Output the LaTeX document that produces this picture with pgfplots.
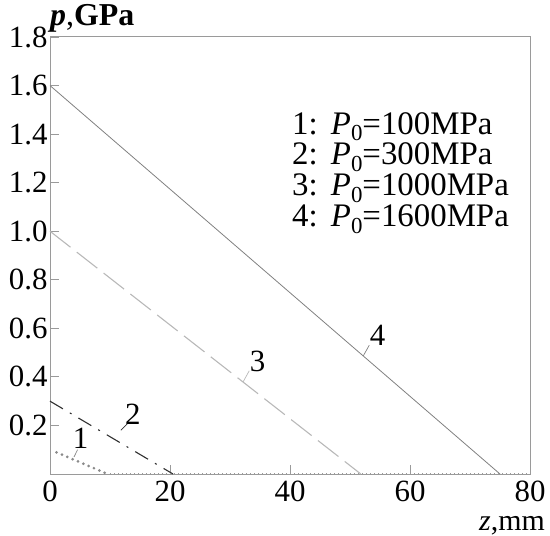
\documentclass[border=0pt]{standalone}
\usepackage{pgfplots}
\pgfplotsset{compat=1.18}
\usepackage{fontspec}
\setmainfont{Liberation Serif}
\definecolor{axgray}{HTML}{9A9A9A}
\definecolor{l4}{HTML}{808080}
\definecolor{l3}{HTML}{B8B8B8}
\definecolor{l2}{HTML}{303030}
\definecolor{l1}{HTML}{8A8A8A}
\newcommand{\Pz}{\textit{P}\raisebox{-0.45ex}{\fontsize{23}{23}\selectfont 0}}
\begin{document}
\begin{tikzpicture}[font=\fontsize{31}{34}\selectfont]
\begin{axis}[
  name=ax,
  scale only axis,
  width=480bp, height=437bp,
  xmin=0, xmax=80, ymin=0, ymax=1.8,
  xtick={0,20,40,60,80},
  ytick={0.2,0.4,0.6,0.8,1.0,1.2,1.4,1.6,1.8},
  yticklabels={0.2,0.4,0.6,0.8,1.0,1.2,1.4,1.6,1.8},
  xticklabels={0,20,40,60,80},
  xtick pos=bottom, ytick pos=left,
  tick align=inside,
  major tick length=9bp,
  axis line style={axgray, line width=1pt},
  every tick/.style={axgray, line width=0.9pt},
  /pgf/number format/assume math mode=true,
  yticklabel style={xshift=1bp},
  xticklabel style={yshift=-6bp, inner sep=1pt},
  clip=false,
]
% series 4
\addplot[l4, line width=0.8pt] coordinates {(0,1.6) (75,0)};
% series 3
\addplot[l3, line width=1.1pt, dash pattern=on 26bp off 8bp] coordinates {(0,1.0) (51.8,0)};
% series 2
\addplot[l2, line width=1.1pt, dash pattern=on 15bp off 8bp on 2bp off 8bp] coordinates {(0,0.3) (20.5,0)};
% series 1
\addplot[l1, line width=3pt, line cap=round, dash pattern=on 0bp off 5.8bp] coordinates {(1.1,0.089) (9.6,0)};
% continuation along zero
\addplot[axgray, line width=2.2pt, dash pattern=on 0.7bp off 3.3bp] coordinates {(10,0) (80,0)};
% leaders and labels
\draw[l4, line width=0.7pt] (axis cs:52.2,0.486) -- (axis cs:53.2,0.53);
\node at (axis cs:54.6,0.57) {4};
\draw[l3, line width=0.7pt] (axis cs:32.2,0.38) -- (axis cs:33.2,0.425);
\node at (axis cs:34.6,0.465) {3};
\draw[l2, line width=0.7pt] (axis cs:11.8,0.18) -- (axis cs:13.2,0.215);
\node at (axis cs:13.8,0.245) {2};
\draw[l1, line width=0.7pt] (axis cs:4.0,0.07) -- (axis cs:4.6,0.1);
\node at (axis cs:5.1,0.148) {1};
\end{axis}
% legend
\node[anchor=north west, inner sep=0pt, align=left, font=\fontsize{33}{29.7}\selectfont] at ([xshift=242bp,yshift=-75bp]ax.north west)
  {\begin{tabular}{@{}l@{\hspace{0.4em}}l@{}}
   1: & \Pz=100MPa\\
   2: & \Pz=300MPa\\
   3: & \Pz=1000MPa\\
   4: & \Pz=1600MPa
   \end{tabular}};
\node[anchor=west, inner sep=0pt, font=\fontsize{32}{34}\selectfont] at ([xshift=0bp,yshift=19bp]ax.north west) {\textbf{\textit{p}},\textbf{GPa}};
\node[anchor=east, inner sep=0pt, font=\fontsize{30}{32}\selectfont] at ([xshift=15bp,yshift=-52bp]ax.south east) {\textit{z},mm};
\pgfresetboundingbox
\path[use as bounding box] ([xshift=-50bp,yshift=-62bp]ax.south west) rectangle ([xshift=20bp,yshift=37bp]ax.north east);
\end{tikzpicture}
\end{document}
